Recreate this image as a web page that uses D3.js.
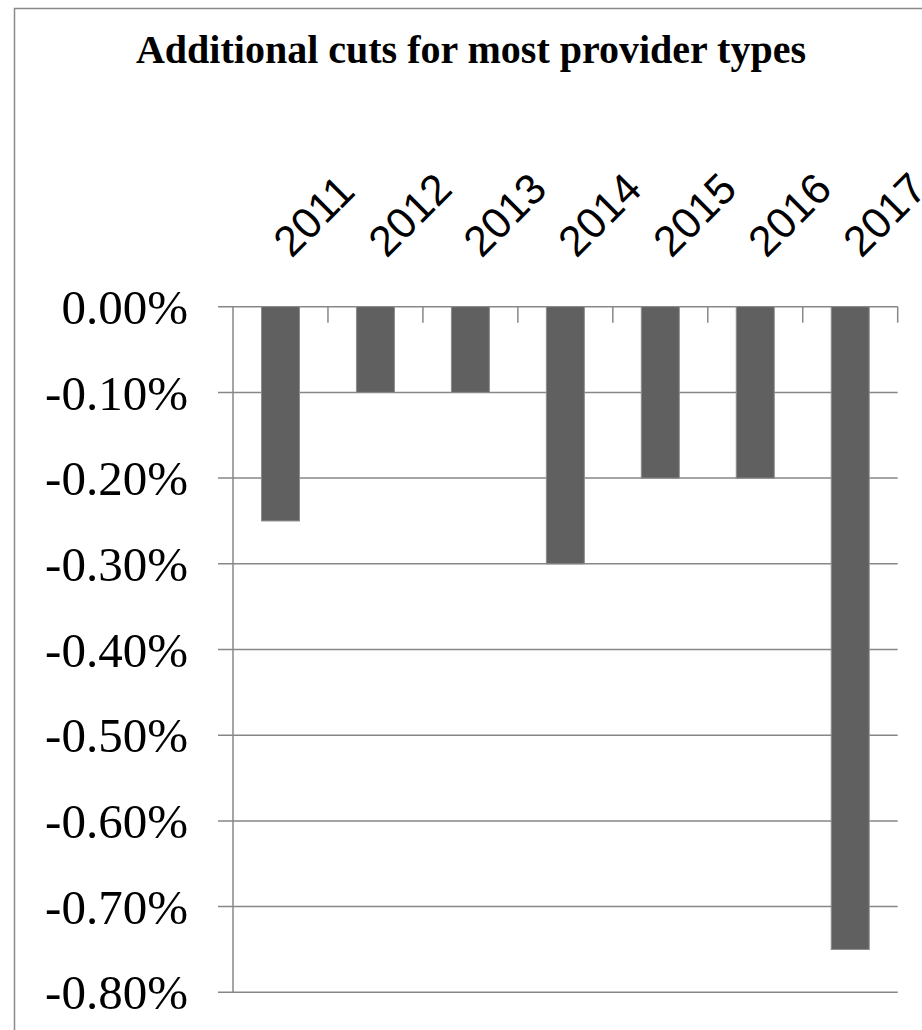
<!DOCTYPE html>
<html>
<head>
<meta charset="utf-8">
<script src="https://cdn.jsdelivr.net/npm/d3@7"></script>
<style>
  html, body { margin: 0; padding: 0; background: #fff; overflow: hidden; }
  svg { display: block; }
</style>
</head>
<body>
<svg id="chart" width="922" height="1030"></svg>
<script>
// Additional payment cuts by year (percent)
const years = ["2011", "2012", "2013", "2014", "2015", "2016", "2017"];
const cuts = [-0.25, -0.10, -0.10, -0.30, -0.20, -0.20, -0.75];
const yTicks = [0, -0.1, -0.2, -0.3, -0.4, -0.5, -0.6, -0.7, -0.8];
const titleText = "Additional cuts for most provider types";

const svg = d3.select("#chart");

// outer chart frame (runs past the right and bottom edges)
svg.append("rect")
  .attr("x", 14.5).attr("y", 8.5)
  .attr("width", 960).attr("height", 1060)
  .attr("fill", "#fff")
  .attr("stroke", "#8a8a8a")
  .attr("stroke-width", 1.5);

const plot = { left: 233, right: 897.7, top: 306.7, bottom: 992.3 };

const x = d3.scaleBand()
  .domain(years)
  .range([plot.left, plot.right])
  .paddingInner(0.6)
  .paddingOuter(0.3);

const xCat = d3.scaleBand()
  .domain(years)
  .range([plot.left, plot.right]);

const y = d3.scaleLinear()
  .domain([0, -0.8])
  .range([plot.top, plot.bottom]);

const gridColor = "#878787";

// horizontal gridlines with short outside ticks
svg.append("g")
  .selectAll("line")
  .data(yTicks)
  .join("line")
  .attr("x1", plot.left - 15)
  .attr("x2", plot.right)
  .attr("y1", d => y(d))
  .attr("y2", d => y(d))
  .attr("stroke", gridColor)
  .attr("stroke-width", 1.5);

// value axis line
svg.append("line")
  .attr("x1", plot.left).attr("x2", plot.left)
  .attr("y1", plot.top).attr("y2", plot.bottom)
  .attr("stroke", gridColor)
  .attr("stroke-width", 1.5);

// category tick marks hanging below the zero line
svg.append("g")
  .selectAll("line")
  .data(years)
  .join("line")
  .attr("x1", d => xCat(d) + xCat.bandwidth())
  .attr("x2", d => xCat(d) + xCat.bandwidth())
  .attr("y1", y(0))
  .attr("y2", y(0) + 16)
  .attr("stroke", gridColor)
  .attr("stroke-width", 1.5);

// bars
svg.append("g")
  .selectAll("rect")
  .data(years.map((yr, i) => ({ yr, v: cuts[i] })))
  .join("rect")
  .attr("x", d => x(d.yr))
  .attr("width", x.bandwidth())
  .attr("y", y(0))
  .attr("height", d => y(d.v) - y(0))
  .attr("fill", "#606060")
  .attr("stroke", "#8c8c8c")
  .attr("stroke-width", 1);

// value axis labels, plain hyphen for the sign
const pct = d => (d < 0 ? "-" : "") + Math.abs(d).toFixed(2) + "%";
svg.append("g")
  .selectAll("text")
  .data(yTicks)
  .join("text")
  .attr("x", 188)
  .attr("y", d => y(d))
  .attr("dy", "0.35em")
  .attr("text-anchor", "end")
  .attr("font-family", "'Liberation Serif', 'DejaVu Serif', serif")
  .attr("font-size", 49)
  .attr("fill", "#000")
  .text(pct);

// rotated category labels above the zero line
svg.append("g")
  .selectAll("text")
  .data(years)
  .join("text")
  .attr("transform", d => `translate(${xCat(d) + xCat.bandwidth() / 2 + 11},259) rotate(-45)`)
  .attr("text-anchor", "start")
  .attr("font-family", "'Liberation Sans', Arial, sans-serif")
  .attr("font-size", 43)
  .attr("fill", "#000")
  .text(d => d);

// title
svg.append("text")
  .attr("x", 471)
  .attr("y", 63)
  .attr("text-anchor", "middle")
  .attr("font-family", "'Liberation Serif', 'DejaVu Serif', serif")
  .attr("font-weight", "bold")
  .attr("font-size", 40)
  .attr("fill", "#000")
  .text(titleText);
</script>
</body>
</html>
